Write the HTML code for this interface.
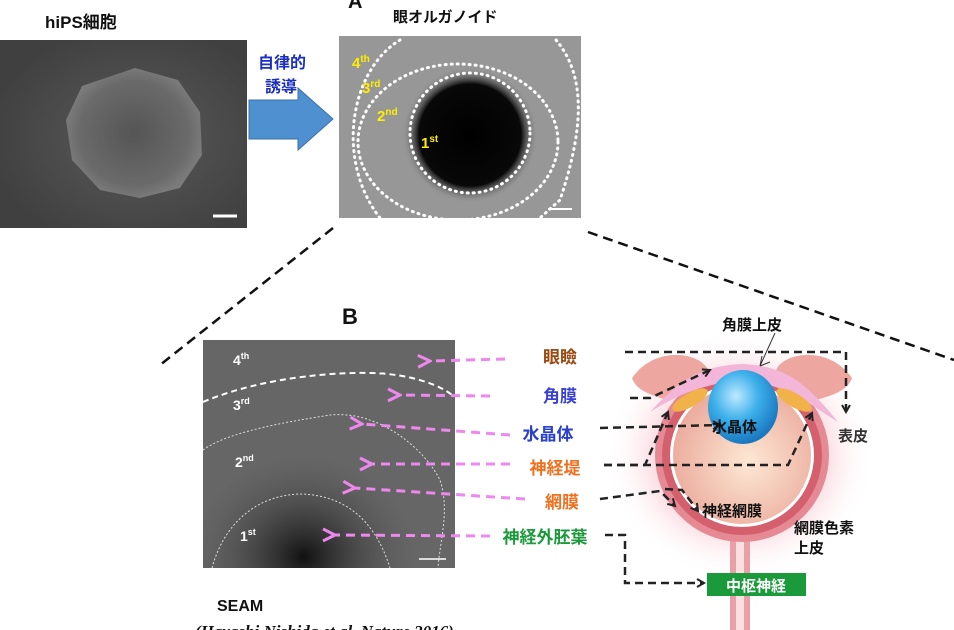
<!DOCTYPE html>
<html><head><meta charset="utf-8"><style>
html,body{margin:0;padding:0;background:#fff;width:954px;height:630px;overflow:hidden}
text{font-family:"Liberation Sans","Noto Sans CJK JP",sans-serif;font-weight:bold}
</style></head><body>
<svg width="954" height="630" viewBox="0 0 954 630" xmlns="http://www.w3.org/2000/svg">
<defs>
<radialGradient id="g1" cx="0.55" cy="0.52" r="0.6"><stop offset="0" stop-color="#5a5a5a"/><stop offset="1" stop-color="#404040"/></radialGradient>
<radialGradient id="col" cx="0.5" cy="0.5" r="0.5"><stop offset="0" stop-color="#555"/><stop offset="0.8" stop-color="#6a6a6a"/><stop offset="1" stop-color="#7a7a7a"/></radialGradient>
<radialGradient id="g2" cx="0.5" cy="0.5" r="0.5"><stop offset="0" stop-color="#000"/><stop offset="0.75" stop-color="#080808"/><stop offset="1" stop-color="#999" stop-opacity="0"/></radialGradient>
<radialGradient id="g3" cx="0.4" cy="0.95" r="0.45"><stop offset="0" stop-color="#111"/><stop offset="1" stop-color="#555" stop-opacity="0"/></radialGradient>
<radialGradient id="lens" cx="0.4" cy="0.35" r="0.65"><stop offset="0" stop-color="#bfe9ff"/><stop offset="0.5" stop-color="#3db0ea"/><stop offset="1" stop-color="#1a78c0"/></radialGradient>
<radialGradient id="ball" cx="0.55" cy="0.55" r="0.6"><stop offset="0" stop-color="#fde8d4"/><stop offset="1" stop-color="#eaa89a"/></radialGradient>
<radialGradient id="glow" cx="0.5" cy="0.5" r="0.5"><stop offset="0.55" stop-color="#f9ccd4"/><stop offset="1" stop-color="#fff" stop-opacity="0"/></radialGradient>
<marker id="ab" markerWidth="10" markerHeight="10" refX="8" refY="5" orient="auto" markerUnits="userSpaceOnUse"><path d="M1,1 L8,5 L1,9" fill="none" stroke="#222" stroke-width="2"/></marker>
<marker id="ap" markerWidth="16" markerHeight="16" refX="2" refY="8" orient="auto" markerUnits="userSpaceOnUse"><path d="M14,2 L2,8 L14,14" fill="none" stroke="#ee88ee" stroke-width="3"/></marker>
</defs>

<text x="45" y="28" font-size="17" fill="#111">hiPS細胞</text>
<rect x="0" y="40" width="247" height="188" fill="url(#g1)"/>
<polygon points="135,68 178,80 200,112 202,155 180,188 140,198 100,190 72,160 66,120 82,86" fill="url(#col)"/>
<line x1="213" y1="216" x2="237" y2="216" stroke="#fff" stroke-width="3"/>

<polygon points="249,100 298,100 298,88 333,119 298,150 298,139 249,139" fill="#4f90d0" stroke="#3a70a8"/>
<text x="258" y="68" font-size="16" fill="#1a2fc0">自律的</text>
<text x="265" y="92" font-size="16" fill="#1a2fc0">誘導</text>

<text x="348" y="8" font-size="20" fill="#111">A</text>
<text x="393" y="22" font-size="15" fill="#111">眼オルガノイド</text>
<rect x="339" y="36" width="242" height="182" fill="#979797"/>
<circle cx="470" cy="135" r="68" fill="url(#g2)"/>
<circle cx="470" cy="133" r="60" fill="none" stroke="#fff" stroke-width="3" stroke-dasharray="1 5" stroke-linecap="round"/>
<ellipse cx="458" cy="142" rx="100" ry="78" fill="none" stroke="#fff" stroke-width="3" stroke-dasharray="1 5" stroke-linecap="round"/>
<path d="M400,40 C350,70 335,160 380,218 M556,40 C590,80 580,140 560,200 L540,218" fill="none" stroke="#fff" stroke-width="3" stroke-dasharray="1 5" stroke-linecap="round"/>
<line x1="548" y1="209" x2="572" y2="209" stroke="#fff" stroke-width="2"/>
<g fill="#ffee00" font-size="15"><text x="352" y="68">4<tspan font-size="10" dy="-6">th</tspan></text><text x="362" y="93">3<tspan font-size="10" dy="-6">rd</tspan></text><text x="377" y="121">2<tspan font-size="10" dy="-6">nd</tspan></text><text x="421" y="148">1<tspan font-size="10" dy="-6">st</tspan></text></g>

<line x1="333" y1="228" x2="160" y2="365" stroke="#111" stroke-width="2.5" stroke-dasharray="10 6"/>
<line x1="588" y1="232" x2="954" y2="360" stroke="#111" stroke-width="2.5" stroke-dasharray="10 6"/>

<text x="342" y="324" font-size="22" fill="#111">B</text>
<rect x="203" y="340" width="252" height="228" fill="#666"/>
<rect x="203" y="340" width="252" height="228" fill="url(#g3)"/>
<path d="M203,402 C260,378 330,372 372,373 C410,374 440,385 452,395" fill="none" stroke="#fff" stroke-width="2" stroke-dasharray="6 4"/>
<path d="M203,450 C230,430 300,420 330,415 C380,410 425,450 440,480 C450,510 440,540 438,568" fill="none" stroke="#ddd" stroke-width="1" stroke-dasharray="2 2"/>
<path d="M212,568 C225,520 260,495 300,494 C345,495 375,520 390,568" fill="none" stroke="#ddd" stroke-width="1" stroke-dasharray="2 2"/>
<line x1="419" y1="559" x2="446" y2="559" stroke="#fff" stroke-width="1.5"/>
<g fill="#fff" font-size="14"><text x="233" y="365">4<tspan font-size="9" dy="-6">th</tspan></text><text x="233" y="410">3<tspan font-size="9" dy="-6">rd</tspan></text><text x="235" y="467">2<tspan font-size="9" dy="-6">nd</tspan></text><text x="240" y="541">1<tspan font-size="9" dy="-6">st</tspan></text></g>

<g stroke="#ee88ee" stroke-width="3" stroke-dasharray="9 6" fill="none" marker-end="url(#ap)">
<line x1="505" y1="359" x2="430" y2="361"/>
<line x1="490" y1="396" x2="400" y2="395"/>
<line x1="510" y1="435" x2="362" y2="424"/>
<line x1="510" y1="464" x2="372" y2="464"/>
<line x1="525" y1="499" x2="355" y2="488"/>
<line x1="490" y1="536" x2="335" y2="535"/>
</g>
<g font-size="17" text-anchor="middle">
<text x="560" y="363" fill="#9a4a10">眼瞼</text>
<text x="560" y="402" fill="#3a40d0">角膜</text>
<text x="548" y="440" fill="#2a40c8">水晶体</text>
<text x="555" y="474" fill="#f07020">神経堤</text>
<text x="562" y="508" fill="#f07020">網膜</text>
<text x="545" y="543" fill="#1a9a3a">神経外胚葉</text>
</g>

<!-- eye -->
<ellipse cx="740" cy="455" rx="135" ry="125" fill="url(#glow)"/>
<rect x="730" y="540" width="20" height="90" fill="#e8a0a6"/>
<rect x="736" y="540" width="8" height="90" fill="#fbe0e2"/>
<circle cx="742" cy="455" r="87" fill="#e58a94"/>
<circle cx="742" cy="455" r="80" fill="#d3606c"/>
<circle cx="742" cy="455" r="72" fill="#fff"/>
<circle cx="742" cy="455" r="69" fill="url(#ball)"/>
<path d="M632,378 C655,345 700,352 708,370 L668,400 C650,395 636,390 632,378Z" fill="#eda7a0"/>
<path d="M852,378 C829,345 784,352 776,370 L816,400 C834,395 848,390 852,378Z" fill="#eda7a0"/>
<path d="M650,412 C680,380 700,366 742,364 C784,366 804,380 838,422 C810,405 790,385 742,380 C694,385 670,400 650,412Z" fill="#f3b6d8"/>
<ellipse cx="690" cy="400" rx="20" ry="7" transform="rotate(-30 690 400)" fill="#f2b24a"/>
<ellipse cx="794" cy="400" rx="20" ry="7" transform="rotate(30 794 400)" fill="#f2b24a"/>
<ellipse cx="743" cy="407" rx="35" ry="37" fill="url(#lens)"/>

<g stroke="#222" stroke-width="2.5" stroke-dasharray="8 5" fill="none" marker-end="url(#ab)">
<polyline points="625,352 846,352 846,412"/>
<polyline points="630,398 650,398 710,370"/>
<polyline points="600,428 720,425"/>
<polyline points="604,465 645,465 668,412"/>
<polyline points="604,465 788,465 812,413"/>
<polyline points="600,499 660,491 675,506"/>
<polyline points="665,489 682,490 698,511"/>
<polyline points="605,535 625,535 625,583 704,583"/>
</g>
<path d="M775,333 L760,366 M760,366 L770,362 M760,366 L762,356" stroke="#333" stroke-width="1" fill="none"/>
<g font-size="15" fill="#111">
<text x="722" y="330" font-weight="normal">角膜上皮</text>
<text x="712" y="432">水晶体</text>
<text x="838" y="441" fill="#333">表皮</text>
<text x="702" y="516">神経網膜</text>
<text x="794" y="533">網膜色素</text>
<text x="794" y="553">上皮</text>
</g>
<rect x="707" y="573" width="99" height="23" fill="#1a9a3a"/>
<text x="756" y="591" font-size="15" fill="#fff" text-anchor="middle">中枢神経</text>

<text x="217" y="611" font-size="16" fill="#111">SEAM</text>
<text x="195" y="637" font-size="17" fill="#111" style="font-family:'Liberation Serif',serif;font-style:italic">(Hayashi Nishida et al. Nature 2016)</text>
</svg>
</body></html>
